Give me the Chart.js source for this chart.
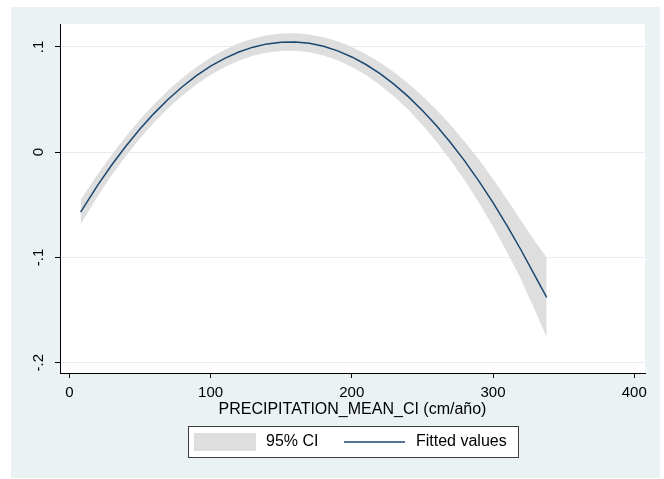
<!DOCTYPE html>
<html>
<head>
<meta charset="utf-8">
<script src="https://cdn.jsdelivr.net/npm/chart.js@4.4.1/dist/chart.umd.min.js"></script>
<style>
  html, body { margin: 0; padding: 0; background: #fff; }
  #wrap { width: 664px; height: 479px; position: relative; }
</style>
</head>
<body>
<div id="wrap"><canvas id="chart"></canvas></div>
<script>
// values
const xValues = [8, 20, 30, 40, 50, 60, 70, 80, 90, 100, 110, 120, 130, 140, 150, 160, 170,
  180, 190, 200, 210, 220, 230, 240, 250, 260, 270, 280, 290, 300, 310, 320, 330, 338];
const fittedValues = [-0.0570, -0.0315, -0.0122, 0.0056, 0.0220, 0.0369, 0.0503, 0.0622, 0.0727,
  0.0817, 0.0892, 0.0952, 0.0998, 0.1029, 0.1045, 0.1047, 0.1034, 0.1006, 0.0963, 0.0905,
  0.0833, 0.0746, 0.0644, 0.0528, 0.0397, 0.0251, 0.0090, -0.0085, -0.0275, -0.0480,
  -0.0700, -0.0934, -0.1183, -0.1380];
const ciUpper = [-0.0455, -0.0210, -0.0024, 0.0149, 0.0310, 0.0456, 0.0588, 0.0706, 0.0810,
  0.0900, 0.0974, 0.1034, 0.1080, 0.1111, 0.1128, 0.1130, 0.1119, 0.1093, 0.1053, 0.1000,
  0.0933, 0.0853, 0.0759, 0.0653, 0.0535, 0.0403, 0.0258, 0.0100, -0.0070, -0.0255,
  -0.0450, -0.0654, -0.0853, -0.1000];
const ciLower = [-0.0685, -0.0420, -0.0220, -0.0037, 0.0130, 0.0282, 0.0418, 0.0538, 0.0644,
  0.0734, 0.0810, 0.0870, 0.0916, 0.0947, 0.0962, 0.0964, 0.0949, 0.0919, 0.0873, 0.0810,
  0.0733, 0.0639, 0.0529, 0.0403, 0.0259, 0.0099, -0.0078, -0.0270, -0.0480, -0.0705,
  -0.0950, -0.1214, -0.1513, -0.1760];
const xTicks = [0, 100, 200, 300, 400];
const yTicks = [-0.2, -0.1, 0, 0.1];
const yTickLabels = ['-.2', '-.1', '0', '.1'];
const xTitle = 'PRECIPITATION_MEAN_CI (cm/año)';
const legendLabels = ['95% CI', 'Fitted values'];

const BAND = '#dedede';
const LINE = '#1a476f';
const OUTER = '#eaf2f3';
const GRID = '#e4edef';
const FONT = '"Liberation Sans", Arial, sans-serif';

const pts = ys => xValues.map((x, i) => ({ x, y: ys[i] }));

const background = {
  id: 'background',
  beforeDraw(chart) {
    const { ctx, chartArea: a } = chart;
    ctx.save();
    ctx.fillStyle = '#fff';
    ctx.fillRect(0, 0, chart.width, chart.height);
    ctx.fillStyle = OUTER;
    ctx.fillRect(11, 7, chart.width - 15, chart.height - 8);
    ctx.fillStyle = '#fff';
    ctx.fillRect(a.left, a.top, a.right - a.left, a.bottom - a.top);
    ctx.restore();
  }
};

// stata style legend box under the axis title
const legendBox = {
  id: 'legendBox',
  afterDraw(chart) {
    const { ctx, chartArea: a } = chart;
    const cx = (a.left + a.right) / 2;
    const left = Math.round(cx - 165), top = a.bottom + 53;
    ctx.save();
    ctx.fillStyle = '#fff';
    ctx.fillRect(left, top, 330, 31);
    ctx.strokeStyle = '#3c3c3c';
    ctx.lineWidth = 1;
    ctx.strokeRect(left + 0.5, top + 0.5, 330, 31);
    const mid = top + 16;
    ctx.fillStyle = BAND;
    ctx.fillRect(left + 6, top + 7, 62, 18);
    ctx.strokeStyle = LINE;
    ctx.lineWidth = 1.5;
    ctx.beginPath();
    ctx.moveTo(left + 156, mid);
    ctx.lineTo(left + 217, mid);
    ctx.stroke();
    ctx.fillStyle = '#000';
    ctx.font = '16px ' + FONT;
    ctx.textBaseline = 'middle';
    ctx.fillText(legendLabels[0], left + 78, mid);
    ctx.fillText(legendLabels[1], left + 228, mid);
    ctx.restore();
  }
};

new Chart(document.getElementById('chart'), {
  type: 'line',
  data: {
    datasets: [
      { label: 'lower', data: pts(ciLower), borderWidth: 0, pointRadius: 0, fill: false, order: 2 },
      { label: legendLabels[0], data: pts(ciUpper), borderWidth: 0, pointRadius: 0,
        fill: '-1', backgroundColor: BAND, order: 1 },
      { label: legendLabels[1], data: pts(fittedValues), borderColor: LINE, borderWidth: 1.5,
        pointRadius: 0, fill: false, order: 0 }
    ]
  },
  options: {
    responsive: true,
    maintainAspectRatio: false,
    animation: false,
    layout: { padding: { left: 10, top: 24, right: 19, bottom: 46 } },
    plugins: { legend: { display: false }, tooltip: { enabled: false } },
    elements: { line: { tension: 0 } },
    scales: {
      x: {
        type: 'linear', min: -6.6, max: 407.6,
        afterBuildTicks: s => { s.ticks = xTicks.map(v => ({ value: v })); },
        afterFit: s => { s.height = 60; },
        ticks: { color: '#000', font: { family: FONT, size: 15 }, padding: 6, maxRotation: 0,
          callback: v => String(v) },
        grid: { drawOnChartArea: false, tickLength: 5, tickColor: '#000' },
        border: { color: '#000', width: 1 },
        title: { display: true, text: xTitle, color: '#000', font: { family: FONT, size: 16 },
          padding: { top: 0, bottom: 14 } }
      },
      y: {
        type: 'linear', min: -0.2098, max: 0.1218,
        afterBuildTicks: s => { s.ticks = yTicks.map(v => ({ value: v })); },
        afterFit: s => { s.width = 50; },
        ticks: { color: '#000', font: { family: FONT, size: 15 }, padding: 7, minRotation: 90,
          maxRotation: 90, crossAlign: 'center', callback: v => yTickLabels[yTicks.indexOf(v)] },
        grid: { color: GRID, tickLength: 5, tickColor: '#000' },
        border: { color: '#000', width: 1 }
      }
    }
  },
  plugins: [background, legendBox]
});
</script>
</body>
</html>
